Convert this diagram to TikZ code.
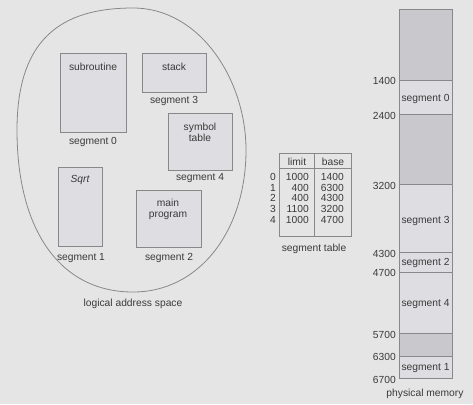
\documentclass[tikz,border=0pt]{standalone}
\usepackage{fontspec}
\setmainfont{Liberation Sans}
\begin{document}
\definecolor{bgcol}{HTML}{E5E5E5}
\definecolor{lightfill}{HTML}{DEDEE2}
\definecolor{darkfill}{HTML}{C9C8CD}
\definecolor{edgecol}{HTML}{888888}
\definecolor{txtcol}{HTML}{3A3A3A}
\begin{tikzpicture}[x=0.75pt,y=-0.75pt,
  every node/.style={font=\fontsize{7.7}{9}\selectfont, text=txtcol, inner sep=0pt},
  segbox/.style={draw=edgecol, fill=lightfill, line width=0.7pt},
  memline/.style={draw=edgecol, line width=0.7pt},
  addr/.style={anchor=east},
  num/.style={anchor=east}]
% canvas
\fill[bgcol] (0,0) rectangle (473,404);
\useasboundingbox (0,0) rectangle (473,404);

% logical address space outline
\draw[edgecol, line width=0.6pt] (17,130) .. controls (17,40) and (60,8) .. (133,8)
  .. controls (200,8) and (246,80) .. (246,150)
  .. controls (246,230) and (200,292) .. (133,292)
  .. controls (60,292) and (17,230) .. cycle;

% segments of the program
\draw[segbox] (60,53) rectangle (126,132);
\node (subr) at (93,67) {subroutine};
\node (s0) at (93,142) {segment 0};

\draw[segbox] (142,53) rectangle (206,92);
\node (stk) at (174,67) {stack};
\node (s3) at (174,101) {segment 3};

\draw[segbox] (168,113) rectangle (232,170);
\node[align=center] (sym) at (200,132.5) {symbol\\[-0.5pt]table};
\node (s4) at (200,178) {segment 4};

\draw[segbox] (58,167) rectangle (102,246);
\node (sqrt) at (80,180) {\itshape Sqrt};
\node (s1) at (81,258) {segment 1};

\draw[segbox] (136,190) rectangle (201,247);
\node[align=center] (mainp) at (168,209.5) {main\\[-0.5pt]program};
\node (s2) at (169,258) {segment 2};

\node (las) at (133,304) {logical address space};

% segment table
\draw[memline] (279,153) rectangle (351,236);
\draw[memline] (279,168) -- (351,168);
\draw[memline] (314,153) -- (314,236);
\node (hl) at (297,162) {limit};
\node (hb) at (333,162) {base};
\foreach \i/\l/\b [count=\k from 0] in {0/1000/1400,1/400/6300,2/400/4300,3/1100/3200,4/1000/4700}{
  \node (r\k) at (273,177+10.7*\k) {\i};
  \node[num] (l\k) at (309,177+10.7*\k) {\l};
  \node[num] (b\k) at (344,177+10.7*\k) {\b};
}
\node (st) at (314,249) {segment table};

% physical memory
\fill[darkfill] (399,9) rectangle (452,80);
\fill[lightfill] (399,80) rectangle (452,114);
\fill[darkfill] (399,114) rectangle (452,184);
\fill[lightfill] (399,184) rectangle (452,333);
\fill[darkfill] (399,333) rectangle (452,356);
\fill[lightfill] (399,356) rectangle (452,378);
\foreach \y in {80,114,184,252,272,333,356}{
  \draw[memline] (399,\y) -- (452,\y);
}
\draw[memline] (399,9) rectangle (452,378);

\node (m0) at (425.5,99) {segment 0};
\node (m3) at (425.5,221) {segment 3};
\node (m2) at (425.5,263) {segment 2};
\node (m4) at (425.5,304) {segment 4};
\node (m1) at (425.5,368) {segment 1};

\node[addr] (a1400) at (396,81) {1400};
\node[addr] (a2400) at (396,116) {2400};
\node[addr] (a3200) at (396,186) {3200};
\node[addr] (a4300) at (396,254) {4300};
\node[addr] (a4700) at (396,273) {4700};
\node[addr] (a5700) at (396,335) {5700};
\node[addr] (a6300) at (396,357) {6300};
\node[addr] (a6700) at (396,380) {6700};

\node (pm) at (425,394) {physical memory};
\end{tikzpicture}
\end{document}
